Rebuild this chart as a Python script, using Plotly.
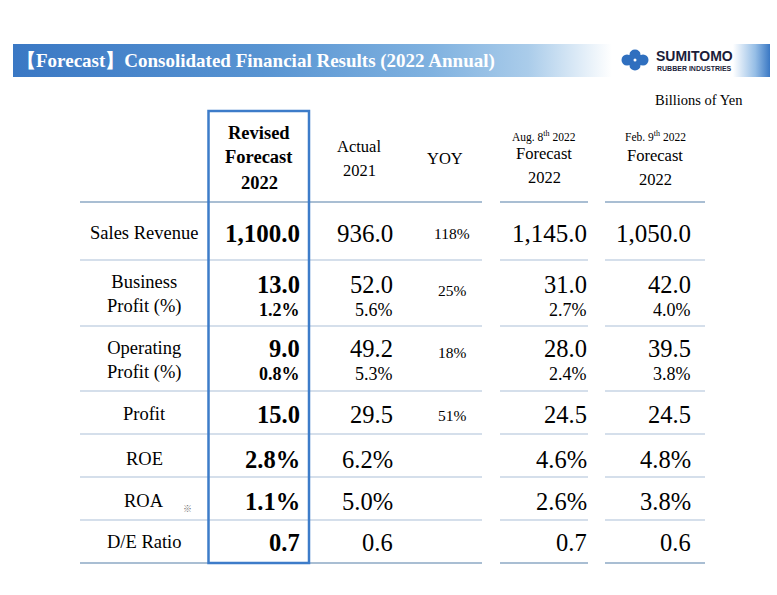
import plotly.graph_objects as go

# ---------------- data ----------------
row_labels = ["Sales Revenue", "Business<br>Profit (%)", "Operating<br>Profit (%)",
              "Profit", "ROE", "ROA", "D/E Ratio"]
row_units = ["", "", "", "", "%", "%", ""]

revised_2022 = [1100.0, 13.0, 9.0, 15.0, 2.8, 1.1, 0.7]
revised_margin = [None, 1.2, 0.8, None, None, None, None]

actual_2021 = [936.0, 52.0, 49.2, 29.5, 6.2, 5.0, 0.6]
actual_margin = [None, 5.6, 5.3, None, None, None, None]

yoy_pct = [118, 25, 18, 51, None, None, None]

aug_forecast = [1145.0, 31.0, 28.0, 24.5, 4.6, 2.6, 0.7]
aug_margin = [None, 2.7, 2.4, None, None, None, None]

feb_forecast = [1050.0, 42.0, 39.5, 24.5, 4.8, 3.8, 0.6]
feb_margin = [None, 4.0, 3.8, None, None, None, None]

title_text = "【Forecast】Consolidated Financial Results (2022 Annual)"
unit_text = "Billions of Yen"

# ---------------- layout constants ----------------
W, H = 777, 595
SERIF = "Liberation Serif, Times New Roman, serif"
SANS = "Liberation Sans, Arial, sans-serif"

label_x = 144
col_right = {"rev": 302, "act": 395, "aug": 589, "feb": 693}
yoy_x = 452
main_y = [233, 284, 348, 414, 459, 501, 542]
margin_y = [None, 310, 374, None, None, None, None]
label_y = [233, 294, 360, 414, 459, 501, 542]
yoy_y = [233, 290, 352, 415, None, None, None]
sep_y = [260, 326, 391, 434, 477, 520]
header_line_y = 202
bottom_line_y = 563

fig = go.Figure()
fig.add_trace(go.Scatter(x=[0, W], y=[0, H], mode="markers",
                         marker=dict(opacity=0), hoverinfo="skip", showlegend=False))

# title bar gradient (left) and right accent
fig.add_trace(go.Scatter(x=[13, 612, 612, 13, 13], y=[44, 44, 77, 77, 44],
                         mode="lines", line=dict(width=0), fill="toself",
                         fillgradient=dict(type="horizontal",
                                           colorscale=[[0, "rgb(58,120,196)"],
                                                       [0.42, "rgb(88,148,210)"],
                                                       [0.7, "rgb(128,178,224)"],
                                                       [0.86, "rgb(170,204,234)"],
                                                       [1, "rgb(255,255,255)"]]),
                         hoverinfo="skip", showlegend=False))
fig.add_trace(go.Scatter(x=[733, 770, 770, 733, 733], y=[44, 44, 77, 77, 44],
                         mode="lines", line=dict(width=0), fill="toself",
                         fillgradient=dict(type="horizontal",
                                           colorscale=[[0, "rgb(255,255,255)"],
                                                       [0.6, "rgb(150,190,230)"],
                                                       [1, "rgb(58,120,196)"]]),
                         hoverinfo="skip", showlegend=False))

shapes = []
ann = []

def text(x, y, s, size, bold=False, color="#000", anchor="center", family=SERIF):
    if bold:
        s = f"<b>{s}</b>"
    ann.append(dict(x=x, y=y, xref="x", yref="y", text=s, showarrow=False,
                    xanchor=anchor, yanchor="middle",
                    font=dict(family=family, size=size, color=color)))

# title
text(15, 61, title_text, 19, bold=True, color="#ffffff", anchor="left")

# logo
logo_blue = "#2F6FBF"
for cx, cy, rx, ry in [(627, 60, 5.5, 5.5), (643, 60, 5.5, 5.5), (635, 54.5, 5.5, 5), (635, 65.5, 5.5, 5)]:
    shapes.append(dict(type="circle", xref="x", yref="y", x0=cx - rx, x1=cx + rx,
                       y0=cy - ry, y1=cy + ry, fillcolor=logo_blue, line=dict(width=0)))
shapes.append(dict(type="rect", xref="x", yref="y", x0=629, x1=641, y0=55, y1=65,
                   fillcolor=logo_blue, line=dict(width=0)))
shapes.append(dict(type="circle", xref="x", yref="y", x0=633.5, x1=636.5, y0=58.5, y1=61.5,
                   fillcolor="#ffffff", line=dict(width=0)))
text(654, 56, "SUMITOMO", 14, bold=True, color="#1b1d3a", anchor="left", family=SANS)
text(655, 68, "RUBBER INDUSTRIES", 7, bold=True, color="#1b1d3a", anchor="left", family=SANS)

# unit
text(699, 100, unit_text, 14.5)

# headers
text(259, 133, "Revised", 18.5, bold=True)
text(259, 157, "Forecast", 18.5, bold=True)
text(259, 183, "2022", 18.5, bold=True)
text(359, 146, "Actual", 16.5)
text(359, 170, "2021", 16.5)
text(445, 158, "YOY", 16.5)
text(544, 136, "Aug. 8<sup>th</sup> 2022", 11.5)
text(544, 153, "Forecast", 16.5)
text(544, 177, "2022", 16.5)
text(655, 136, "Feb. 9<sup>th</sup> 2022", 11.5)
text(655, 155, "Forecast", 16.5)
text(655, 179, "2022", 16.5)

def fmt(v, unit):
    return f"{v:,.1f}{unit}"

for i, lab in enumerate(row_labels):
    text(label_x, label_y[i], lab, 18.5)
    u = row_units[i]
    main_size = 25 if i == 0 else 24.5
    text(col_right["rev"], main_y[i], fmt(revised_2022[i], u), main_size, bold=True, anchor="right")
    text(col_right["act"], main_y[i], fmt(actual_2021[i], u), main_size, anchor="right")
    text(col_right["aug"], main_y[i], fmt(aug_forecast[i], u), main_size, anchor="right")
    text(col_right["feb"], main_y[i], fmt(feb_forecast[i], u), main_size, anchor="right")
    if revised_margin[i] is not None:
        text(col_right["rev"], margin_y[i], fmt(revised_margin[i], "%"), 18, bold=True, anchor="right")
        text(col_right["act"], margin_y[i], fmt(actual_margin[i], "%"), 18, anchor="right")
        text(col_right["aug"], margin_y[i], fmt(aug_margin[i], "%"), 18, anchor="right")
        text(col_right["feb"], margin_y[i], fmt(feb_margin[i], "%"), 18, anchor="right")
    if yoy_pct[i] is not None:
        text(yoy_x, yoy_y[i], f"{yoy_pct[i]}%", 15.5)

# note mark for ROA
ann.append(dict(x=187, y=508, xref="x", yref="y", text="※", showarrow=False,
                font=dict(family="Noto Sans CJK JP", size=9, color="#707070")))

# lines
segments = [(80, 482), (500, 588), (605, 705)]
for y in sep_y:
    for a, b in segments:
        shapes.append(dict(type="line", xref="x", yref="y", x0=a, x1=b, y0=y, y1=y,
                           line=dict(color="#C7D5E4", width=1.5)))
for y in (header_line_y, bottom_line_y):
    for a, b in segments:
        shapes.append(dict(type="line", xref="x", yref="y", x0=a, x1=b, y0=y, y1=y,
                           line=dict(color="#A9BED3", width=2)))

# highlight box
shapes.append(dict(type="rect", xref="x", yref="y", x0=208.5, x1=309, y0=111, y1=563,
                   line=dict(color="#3D7CC9", width=2.5), fillcolor="rgba(0,0,0,0)"))

fig.update_layout(
    width=W, height=H, margin=dict(l=0, r=0, t=0, b=0),
    paper_bgcolor="#ffffff", plot_bgcolor="#ffffff",
    xaxis=dict(range=[0, W], visible=False, fixedrange=True),
    yaxis=dict(range=[H, 0], visible=False, fixedrange=True),
    shapes=shapes, annotations=ann, showlegend=False,
)

fig.write_html("out.html", config={"displayModeBar": False},
               post_script="document.body.style.margin='0';document.body.style.overflow='hidden';")
